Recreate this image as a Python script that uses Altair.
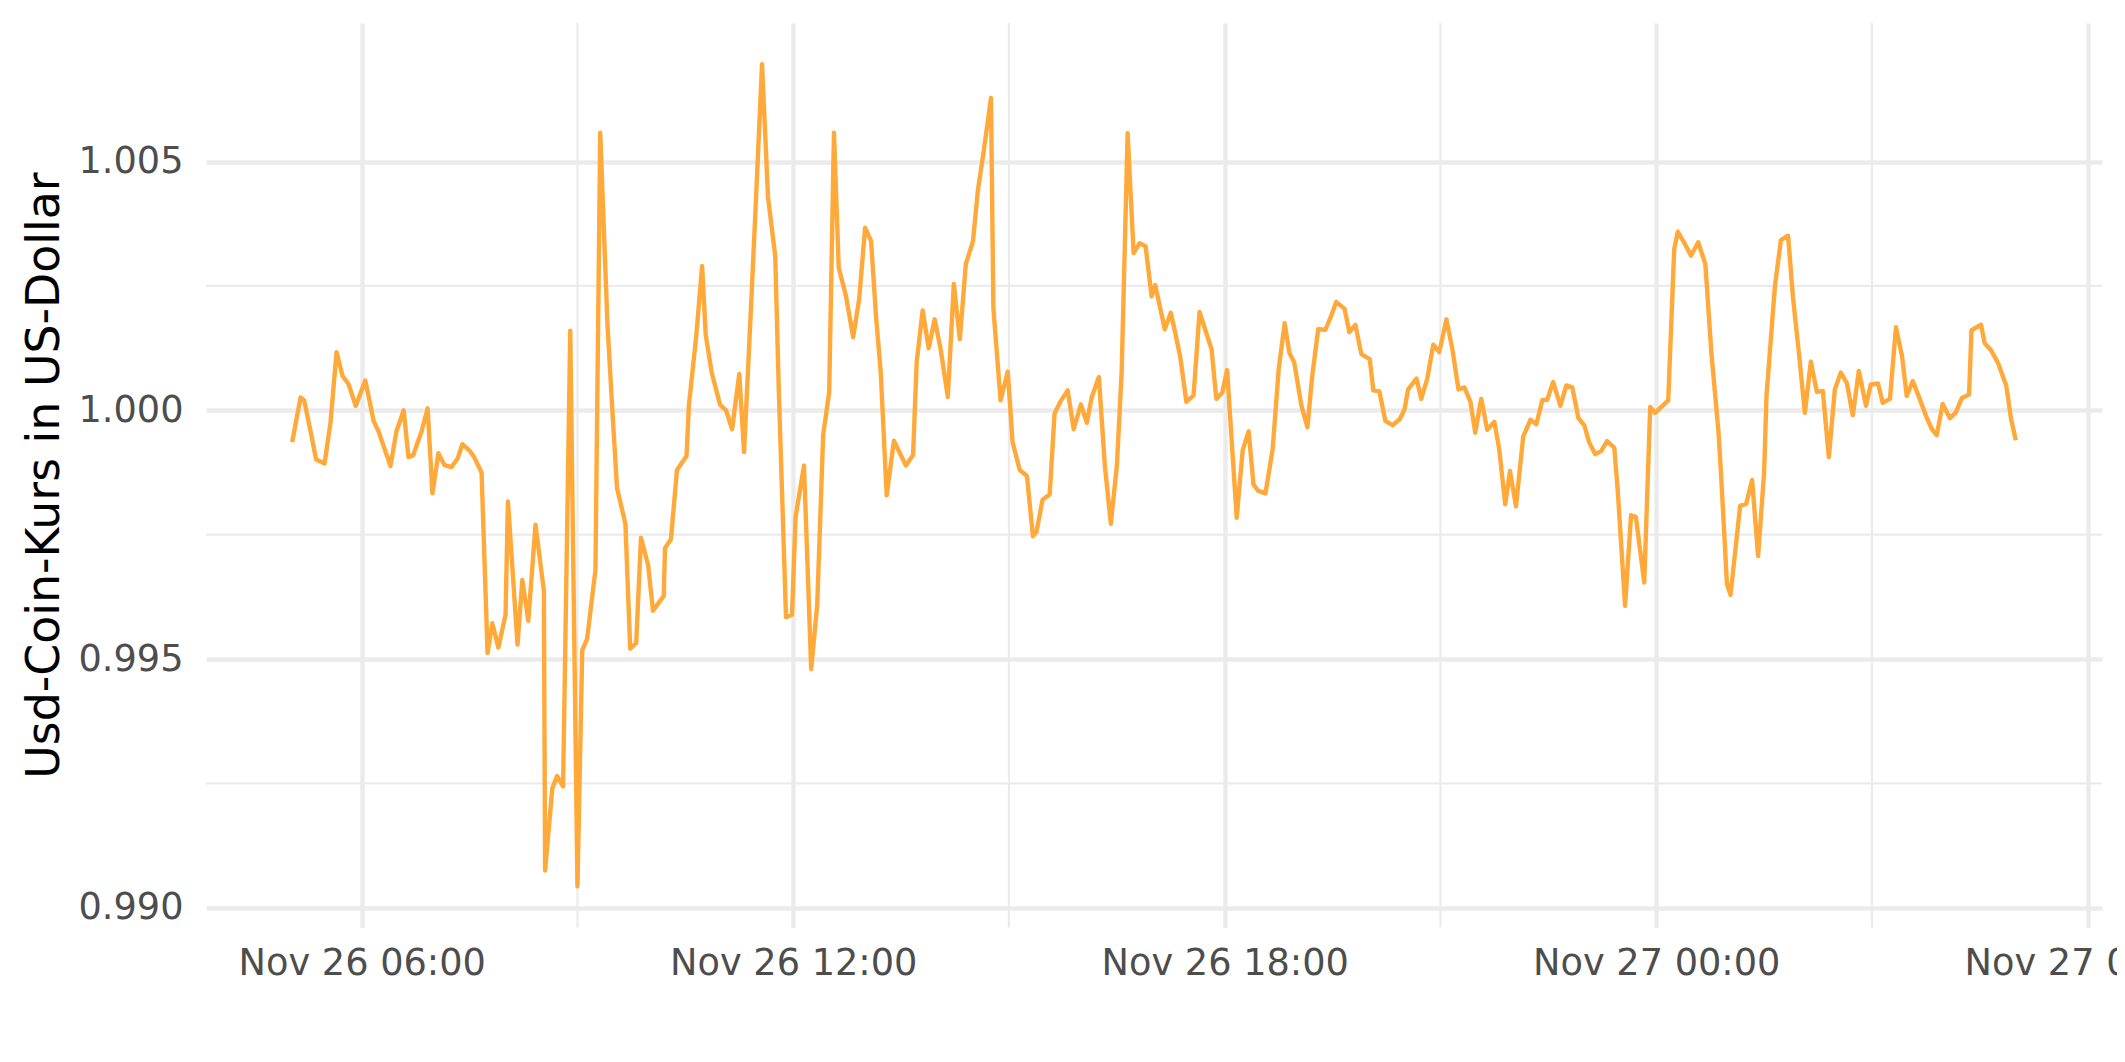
import altair as alt
import pandas as pd

# minutes after 2021-11-26 00:00 (local time) and USD-Coin price
minutes = [
    302, 309, 312, 318, 322, 329, 334, 339, 344, 349, 355, 363, 370, 374, 378, 384, 389, 395, 399, 403,
    410, 415, 419, 424, 429, 435, 440, 444, 450, 454, 460, 465, 469, 474, 480, 482, 490, 494, 499, 505,
    512, 513, 519, 523, 528, 534, 540, 544, 548, 555, 559, 565, 569, 573, 580, 584, 589, 593, 599, 603,
    612, 613, 618, 623, 631, 633, 639, 644, 647, 652, 659, 664, 669, 675, 679, 685, 688, 694, 699, 705,
    708, 714, 719, 722, 729, 735, 740, 745, 750, 754, 758, 764, 770, 775, 780, 785, 789, 793, 798, 804,
    809, 814, 820, 823, 828, 833, 838, 843, 849, 854, 859, 864, 870, 874, 879, 885, 887, 893, 899, 903,
    909, 915, 920, 923, 928, 934, 938, 943, 949, 954, 960, 965, 969, 975, 980, 985, 990, 994, 999, 1004,
    1009, 1014, 1019, 1022, 1030, 1035, 1039, 1043, 1048, 1054, 1059, 1064, 1069, 1073, 1078, 1082, 1090, 1095, 1100, 1104,
    1108, 1114, 1120, 1125, 1130, 1134, 1138, 1144, 1149, 1153, 1158, 1164, 1169, 1173, 1180, 1184, 1189, 1194, 1201, 1204,
    1209, 1214, 1220, 1226, 1230, 1233, 1240, 1244, 1249, 1254, 1259, 1265, 1270, 1275, 1280, 1285, 1289, 1294, 1299, 1305,
    1309, 1314, 1318, 1323, 1329, 1335, 1340, 1345, 1349, 1354, 1360, 1365, 1370, 1375, 1380, 1384, 1389, 1394, 1399, 1405,
    1408, 1414, 1419, 1423, 1430, 1435, 1439, 1450, 1455, 1458, 1464, 1469, 1475, 1481, 1486, 1492, 1494, 1499, 1502, 1510,
    1515, 1520, 1525, 1530, 1532, 1539, 1544, 1550, 1554, 1559, 1564, 1569, 1574, 1579, 1584, 1589, 1594, 1599, 1604, 1609,
    1615, 1619, 1625, 1629, 1635, 1640, 1645, 1649, 1654, 1660, 1665, 1670, 1674, 1679, 1685, 1690, 1695, 1701, 1703, 1711,
    1714, 1719, 1725, 1732, 1736, 1740,
]

kurs = [
    0.99936, 1.00026, 1.00020, 0.99950, 0.99901, 0.99893, 0.99976, 1.00117, 1.00069, 1.00053,
    1.00009, 1.00060, 0.99978, 0.99958, 0.99930, 0.99888, 0.99958, 1.00000, 0.99906, 0.99910,
    0.99958, 1.00004, 0.99833, 0.99914, 0.99890, 0.99886, 0.99903, 0.99932, 0.99919, 0.99905,
    0.99875, 0.99512, 0.99572, 0.99523, 0.99589, 0.99817, 0.99529, 0.99659, 0.99577, 0.99770,
    0.99637, 0.99075, 0.99240, 0.99265, 0.99244, 1.00160, 0.99043, 0.99518, 0.99540, 0.99679,
    1.00558, 1.00174, 1.00005, 0.99844, 0.99772, 0.99521, 0.99532, 0.99744, 0.99688, 0.99597,
    0.99627, 0.99723, 0.99741, 0.99880, 0.99908, 1.00011, 1.00147, 1.00290, 1.00152, 1.00076,
    1.00011, 1.00000, 0.99962, 1.00073, 0.99916, 1.00218, 1.00375, 1.00696, 1.00428, 1.00310,
    1.00038, 0.99584, 0.99589, 0.99786, 0.99889, 0.99480, 0.99608, 0.99951, 1.00036, 1.00558,
    1.00286, 1.00230, 1.00147, 1.00223, 1.00367, 1.00340, 1.00192, 1.00077, 0.99829, 0.99939,
    0.99914, 0.99889, 0.99910, 1.00097, 1.00201, 1.00125, 1.00183, 1.00123, 1.00027, 1.00254,
    1.00143, 1.00294, 1.00340, 1.00441, 1.00522, 1.00628, 1.00205, 1.00020, 1.00078, 0.99936,
    0.99880, 0.99868, 0.99747, 0.99756, 0.99820, 0.99831, 0.99993, 1.00018, 1.00040, 0.99962,
    1.00012, 0.99975, 1.00026, 1.00067, 0.99889, 0.99772, 0.99888, 1.00076, 1.00557, 1.00316,
    1.00336, 1.00330, 1.00229, 1.00252, 1.00163, 1.00196, 1.00153, 1.00106, 1.00017, 1.00030,
    1.00198, 1.00160, 1.00123, 1.00023, 1.00036, 1.00081, 0.99784, 0.99920, 0.99958, 0.99851,
    0.99838, 0.99833, 0.99922, 1.00082, 1.00175, 1.00115, 1.00096, 1.00009, 0.99966, 1.00069,
    1.00163, 1.00162, 1.00191, 1.00218, 1.00204, 1.00157, 1.00172, 1.00113, 1.00103, 1.00040,
    1.00038, 0.99979, 0.99970, 0.99982, 1.00002, 1.00042, 1.00064, 1.00023, 1.00064, 1.00132,
    1.00117, 1.00183, 1.00122, 1.00042, 1.00046, 1.00017, 0.99955, 1.00023, 0.99961, 0.99977,
    0.99922, 0.99811, 0.99878, 0.99807, 0.99947, 0.99981, 0.99972, 1.00021, 1.00021, 1.00057,
    1.00009, 1.00050, 1.00046, 0.99985, 0.99970, 0.99936, 0.99912, 0.99918, 0.99938, 0.99925,
    0.99835, 0.99607, 0.99789, 0.99786, 0.99654, 1.00007, 0.99995, 1.00020, 1.00324, 1.00359,
    1.00334, 1.00311, 1.00338, 1.00294, 1.00116, 0.99955, 0.99875, 0.99651, 0.99629, 0.99808,
    0.99812, 0.99860, 0.99707, 0.99875, 1.00029, 1.00249, 1.00342, 1.00351, 1.00229, 1.00116,
    0.99995, 1.00098, 1.00037, 1.00039, 0.99906, 1.00042, 1.00076, 1.00055, 0.99990, 1.00079,
    1.00009, 1.00052, 1.00054, 1.00015, 1.00023, 1.00167, 1.00110, 1.00029, 1.00059, 1.00022,
    0.99989, 0.99962, 0.99950, 1.00013, 0.99984, 0.99996, 1.00025, 1.00032, 1.00161, 1.00172,
    1.00135, 1.00122, 1.00096, 1.00050, 0.99983, 0.99940,
]

major_x = ["2021-11-26 06:00", "2021-11-26 12:00", "2021-11-26 18:00",
           "2021-11-27 00:00", "2021-11-27 06:00"]
minor_x = ["2021-11-26 09:00", "2021-11-26 15:00", "2021-11-26 21:00",
           "2021-11-27 03:00"]
major_y = [0.990, 0.995, 1.000, 1.005]
minor_y = [0.9925, 0.9975, 1.0025]

y_title = "Usd-Coin-Kurs in US-Dollar"

base = pd.Timestamp("2021-11-26")
df = pd.DataFrame({
    "time": base + pd.to_timedelta(minutes, unit="m"),
    "kurs": kurs,
})

# ggplot-like 5% expansion of the data range
t0, t1 = df["time"].min(), df["time"].max()
tspan = t1 - t0
d0, d1 = t0 - 0.05 * tspan, t1 + 0.05 * tspan
v0, v1 = min(kurs), max(kurs)
vspan = v1 - v0
ydom = [v0 - 0.05 * vspan, v1 + 0.05 * vspan]


def dt(ts):
    return alt.DateTime(year=ts.year, month=ts.month, date=ts.day,
                        hours=ts.hour, minutes=ts.minute, seconds=ts.second)


xscale = alt.Scale(domain=[dt(d0), dt(d1)], nice=False)
yscale = alt.Scale(domain=ydom, nice=False, zero=False)

FONT = "DejaVu Sans"
GRID = "#EBEBEB"

x_axis = alt.Axis(
    values=[dt(pd.Timestamp(v)) for v in major_x],
    format="%b %d %H:%M",
    title=None,
    grid=True, gridColor=GRID, gridWidth=4.4,
    ticks=False, tickSize=0, domain=False,
    labelFont=FONT, labelFontSize=36.7, labelColor="#4D4D4D",
    labelPadding=18, labelFlush=False, labelOverlap=False, labelLimit=1000,
)
y_axis = alt.Axis(
    values=major_y,
    format=".3f",
    title=y_title,
    grid=True, gridColor=GRID, gridWidth=4.4,
    ticks=False, tickSize=0, domain=False,
    labelFont=FONT, labelFontSize=36.7, labelColor="#4D4D4D",
    labelPadding=23, labelOverlap=False, labelLimit=1000,
    titleFont=FONT, titleFontSize=45.8, titleColor="#000000",
    titleFontWeight="normal", titleAngle=270, titleAlign="center",
    titleBaseline="alphabetic", titleX=-148, titleY=452, titleLimit=2000,
)

minor_x_df = pd.DataFrame({"time": pd.to_datetime(minor_x)})
minor_y_df = pd.DataFrame({"kurs": minor_y})

minor_x_rules = alt.Chart(minor_x_df).mark_rule(color=GRID, strokeWidth=2.2).encode(
    x=alt.X("time:T", scale=xscale, axis=x_axis)
)
minor_y_rules = alt.Chart(minor_y_df).mark_rule(color=GRID, strokeWidth=2.2).encode(
    y=alt.Y("kurs:Q", scale=yscale, axis=y_axis)
)

line = alt.Chart(df).mark_line(
    color="#FFA93A", strokeWidth=4.4, strokeJoin="round", strokeCap="butt"
).encode(
    x=alt.X("time:T", scale=xscale, axis=x_axis),
    y=alt.Y("kurs:Q", scale=yscale, axis=y_axis),
)

chart = alt.layer(minor_x_rules, minor_y_rules, line).properties(
    width=1896, height=904.5,
    autosize=alt.AutoSizeParams(type="none"),
    padding={"left": 198, "top": 15, "right": 15, "bottom": 100},
    background="white",
).configure_view(stroke=None)

chart.save("out.html", embed_options={"renderer": "svg", "actions": False})
